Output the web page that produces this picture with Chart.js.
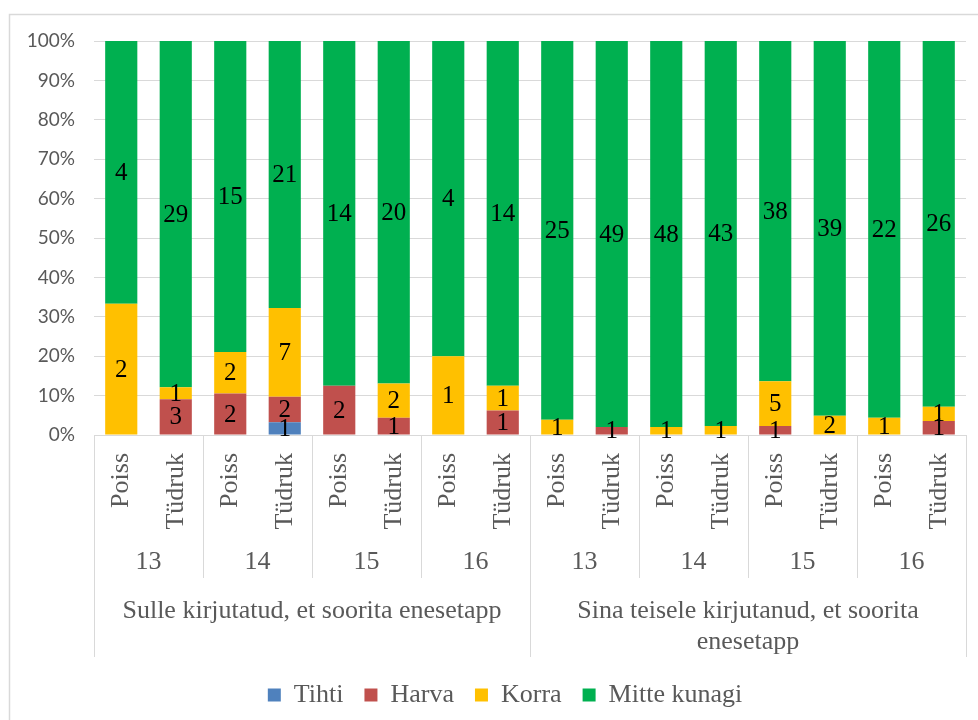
<!DOCTYPE html>
<html lang="et">
<head>
<meta charset="UTF-8" />
<title>Enesetapp</title>
<script src="https://cdn.jsdelivr.net/npm/chart.js@4.4.1/dist/chart.umd.min.js"></script>
<style>
  body { margin: 0; background: #fff; }
  #wrap { width: 978px; height: 720px; position: relative; }
</style>
</head>
<body>
<div id="wrap"><canvas id="myChart"></canvas></div>
<script>
// counts, one entry per bar
const genders = ['Poiss', 'Tüdruk', 'Poiss', 'Tüdruk', 'Poiss', 'Tüdruk', 'Poiss', 'Tüdruk',
                 'Poiss', 'Tüdruk', 'Poiss', 'Tüdruk', 'Poiss', 'Tüdruk', 'Poiss', 'Tüdruk'];
const ages = ['13', '14', '15', '16', '13', '14', '15', '16'];
const groups = [['Sulle kirjutatud, et soorita enesetapp'],
                ['Sina teisele kirjutanud, et soorita', 'enesetapp']];
const seriesNames = ['Tihti', 'Harva', 'Korra', 'Mitte kunagi'];
const tihti = [0, 0, 0, 1, 0, 0, 0, 0, 0, 0, 0, 0, 0, 0, 0, 0];
const harva = [0, 3, 2, 2, 2, 1, 0, 1, 0, 1, 0, 0, 1, 0, 0, 1];
const korra = [2, 1, 2, 7, 0, 2, 1, 1, 1, 0, 1, 1, 5, 2, 1, 1];
const mitte = [4, 29, 15, 21, 14, 20, 4, 14, 25, 49, 48, 43, 38, 39, 22, 26];
const colors = ['#4f81bd', '#c0504d', '#ffc000', '#00b050'];

const counts = [tihti, harva, korra, mitte];
const totals = genders.map((g, i) => tihti[i] + harva[i] + korra[i] + mitte[i]);

const serif = '"Liberation Serif", "Times New Roman", serif';
const textGrey = '#595959';
const lineGrey = '#d9d9d9';

Chart.defaults.font.family = serif;
Chart.defaults.font.size = 26;
Chart.defaults.color = textGrey;

// count labels in the middle of each segment
const segmentLabels = {
  id: 'segmentLabels',
  afterDatasetsDraw(chart) {
    const ctx = chart.ctx;
    ctx.save();
    ctx.font = '25px ' + serif;
    ctx.fillStyle = '#000';
    ctx.textAlign = 'center';
    ctx.textBaseline = 'middle';
    chart.data.datasets.forEach((ds, d) => {
      chart.getDatasetMeta(d).data.forEach((el, i) => {
        const n = counts[d][i];
        if (!n) return;
        ctx.fillText(String(n), el.x, (el.y + el.base) / 2 + 1);
      });
    });
    ctx.restore();
  }
};

// three-level category axis + outer frame
const multiAxis = {
  id: 'multiAxis',
  afterLayout(chart) {
    // legend sits centred on the plot area rather than the canvas
    const lg = chart.legend;
    if (lg) { lg.left += 22; lg.right += 22; }
  },
  beforeDraw(chart) {
    const ctx = chart.ctx;
    ctx.save();
    ctx.strokeStyle = lineGrey;
    ctx.lineWidth = 1.5;
    ctx.strokeRect(9.5, 14.5, 1100, 900);
    ctx.restore();
  },
  afterDraw(chart) {
    const ctx = chart.ctx;
    const x = chart.scales.x;
    const bottom = chart.chartArea.bottom;
    const half = (x.getPixelForValue(1) - x.getPixelForValue(0)) / 2;
    ctx.save();
    ctx.fillStyle = textGrey;
    ctx.font = '26px ' + serif;

    // gender labels, rotated
    genders.forEach((g, i) => {
      ctx.save();
      ctx.translate(x.getPixelForValue(i), bottom + 18);
      ctx.rotate(-Math.PI / 2);
      ctx.textAlign = 'right';
      ctx.textBaseline = 'middle';
      ctx.fillText(g, 0, 0);
      ctx.restore();
    });

    // separators
    ctx.strokeStyle = lineGrey;
    ctx.lineWidth = 1;
    for (let i = 0; i <= genders.length; i += 2) {
      const px = Math.round(x.getPixelForValue(i) - half) + 0.5;
      const long = i % 8 === 0;
      ctx.beginPath();
      ctx.moveTo(px, bottom);
      ctx.lineTo(px, long ? 657 : 578);
      ctx.stroke();
    }

    // age labels
    ctx.textAlign = 'center';
    ctx.textBaseline = 'middle';
    ages.forEach((a, k) => {
      const cx = (x.getPixelForValue(2 * k) + x.getPixelForValue(2 * k + 1)) / 2;
      ctx.fillText(a, cx, 562);
    });

    // group labels
    groups.forEach((lines, k) => {
      const cx = (x.getPixelForValue(8 * k + 3) + x.getPixelForValue(8 * k + 4)) / 2;
      lines.forEach((t, j) => ctx.fillText(t, cx, 611 + j * 31));
    });
    ctx.restore();
  }
};

const chart = new Chart(document.getElementById('myChart'), {
  type: 'bar',
  data: {
    labels: genders,
    datasets: seriesNames.map((name, d) => ({
      label: name,
      data: counts[d].map((v, i) => v / totals[i] * 100),
      backgroundColor: colors[d],
      borderWidth: 0,
      barPercentage: 0.59,
      categoryPercentage: 1
    }))
  },
  options: {
    responsive: true,
    maintainAspectRatio: false,
    animation: false,
    layout: { padding: { top: 41, left: 0, right: 12, bottom: 2 } },
    plugins: {
      tooltip: { enabled: false },
      legend: {
        position: 'bottom',
        labels: {
          color: textGrey,
          font: { family: serif, size: 26 },
          boxWidth: 13,
          boxHeight: 13,
          padding: 21
        }
      }
    },
    scales: {
      x: {
        stacked: true,
        grid: { display: false },
        border: { color: lineGrey },
        ticks: { display: false },
        afterFit(s) { s.height = 226; }
      },
      y: {
        stacked: true,
        min: 0,
        max: 100,
        grid: { color: lineGrey, drawTicks: false },
        border: { display: false },
        ticks: {
          stepSize: 10,
          padding: 19,
          color: textGrey,
          font: { family: 'Lato, "Liberation Sans", sans-serif', size: 19 },
          callback: v => v + '%'
        },
        afterFit(s) { s.width = 94; }
      }
    }
  },
  plugins: [segmentLabels, multiAxis]
});
</script>
</body>
</html>
